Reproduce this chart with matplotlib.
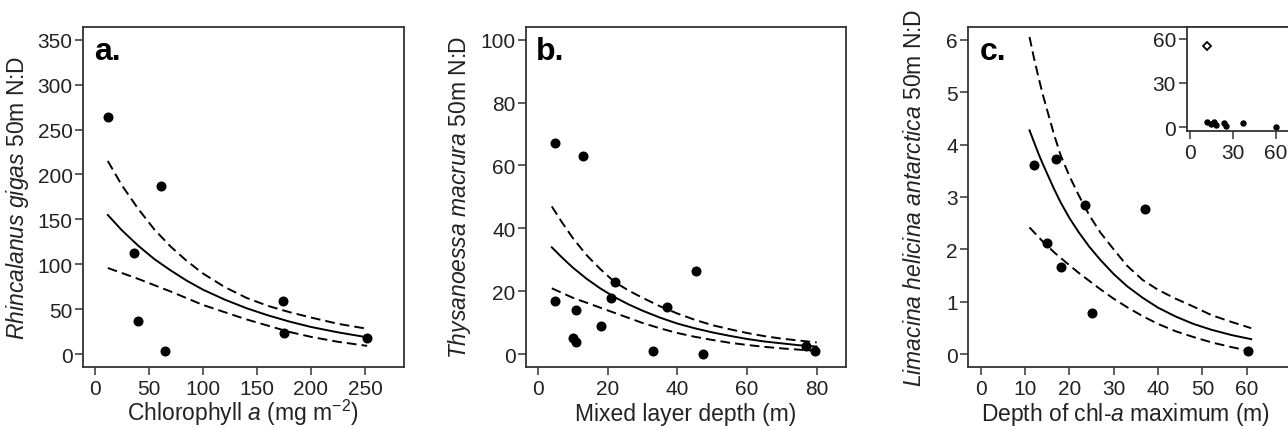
import matplotlib
matplotlib.use('Agg')
import matplotlib.pyplot as plt

plt.rcParams['font.family'] = ['Liberation Sans', 'DejaVu Sans']
plt.rcParams['mathtext.fontset'] = 'custom'
plt.rcParams['mathtext.rm'] = 'Liberation Sans'
plt.rcParams['mathtext.it'] = 'Liberation Sans:italic'
plt.rcParams['mathtext.bf'] = 'Liberation Sans:bold'

# --- panel a: Rhincalanus gigas vs chlorophyll a ---
chl_x = [12, 36, 40, 61, 65, 174, 175, 252]
rhinc_y = [264, 113, 37, 187, 4, 59, 24, 18]
chl_fit_x = [12, 25, 40, 55, 70, 85, 100, 120, 140, 160, 180, 200, 225, 252]
rhinc_fit = [155, 138, 121, 106, 93.5, 82, 72, 61, 51.5, 43.5, 36.5, 30.5, 24.5, 19]
rhinc_upper = [215, 188, 162, 139, 120, 104, 90, 75, 63, 54, 47, 41, 34, 28.5]
rhinc_lower = [96, 90.5, 84, 77, 70, 62.5, 55, 47, 39, 32, 25, 19.5, 14, 9.5]

# --- panel b: Thysanoessa macrura vs mixed layer depth ---
mld_x = [5, 5, 10, 11, 11, 13, 18, 21, 22, 33, 37, 45.5, 47.5, 77, 79.5]
thys_y = [67, 17, 5.3, 14, 4, 63, 9, 18, 23, 1, 15, 26.5, 0, 2.7, 1]
mld_fit_x = [4, 7, 10, 14, 18, 22, 26, 30, 35, 40, 45, 50, 55, 60, 65, 70, 75, 80]
thys_fit = [34, 30.7, 27.6, 24.0, 20.9, 18.2, 15.9, 13.9, 11.7, 9.8, 8.3, 7.0,
            5.9, 4.9, 4.1, 3.5, 2.9, 2.5]
thys_upper = [47, 41.8, 37, 31.5, 27, 23, 20.3, 18, 15.3, 13, 11, 9.3,
              8, 6.8, 5.8, 5, 4.4, 3.8]
thys_lower = [21, 19.5, 18, 16.4, 14.8, 13.2, 11.6, 10, 8.3, 6.8, 5.6, 4.6,
              3.7, 3.0, 2.4, 1.9, 1.5, 1.1]

# --- panel c: Limacina helicina antarctica vs depth of chl-a max ---
dcm_x = [12, 15, 17, 18, 23.6, 25, 37, 60.2]
lim_y = [3.6, 2.12, 3.73, 1.67, 2.85, 0.78, 2.77, 0.07]
dcm_fit_x = [11, 12, 13, 14, 15, 16.5, 18, 20, 22, 24.5, 27, 30, 33, 36.5, 40,
             44, 48, 52, 56.5, 61]
lim_fit = [4.27, 4.05, 3.83, 3.63, 3.44, 3.16, 2.9, 2.6, 2.34, 2.05, 1.8, 1.53,
           1.3, 1.08, 0.89, 0.72, 0.58, 0.47, 0.37, 0.29]
lim_upper = [6.05, 5.65, 5.29, 4.95, 4.65, 4.2, 3.8, 3.4, 3.05, 2.65, 2.32, 2.0,
             1.69, 1.42, 1.23, 1.06, 0.91, 0.75, 0.62, 0.5]
lim_lower = [2.42, 2.33, 2.24, 2.15, 2.07, 1.95, 1.84, 1.7, 1.56, 1.4, 1.24, 1.06,
             0.9, 0.73, 0.58, 0.44, 0.33, 0.23, 0.14, 0.06]
# outlier shown only in the inset
lim_out_x = [12]
lim_out_y = [55]

INK = '#222222'


def style_axes(ax, xticks, yticks, xlim, ylim):
    ax.set_xlim(*xlim)
    ax.set_ylim(*ylim)
    ax.set_xticks(xticks)
    ax.set_yticks(yticks)
    for sp in ax.spines.values():
        sp.set_linewidth(1.3)
        sp.set_color('#333333')
    ax.tick_params(axis='both', direction='out', length=5.5, width=1.1,
                   color='#333333', labelcolor=INK, labelsize=15)
    ax.tick_params(axis='x', pad=3)
    ax.tick_params(axis='y', pad=2)


def draw_fit(ax, x, fit, upper, lower):
    ax.plot(x, fit, color='black', lw=1.4)
    ax.plot(x, upper, color='black', lw=1.4, dashes=(5, 2.6))
    ax.plot(x, lower, color='black', lw=1.4, dashes=(5, 2.6))


fig = plt.figure(figsize=(12.88, 4.31), dpi=100)
bottom, height = 0.1462, 0.7889
ax_a = fig.add_axes([0.0644, bottom, 0.2492, height])
ax_b = fig.add_axes([0.4084, bottom, 0.2484, height])
ax_c = fig.add_axes([0.7518, bottom, 0.2537, height])

# panel a
draw_fit(ax_a, chl_fit_x, rhinc_fit, rhinc_upper, rhinc_lower)
ax_a.plot(chl_x, rhinc_y, 'o', color='black', ms=6.2)
style_axes(ax_a, range(0, 251, 50), range(0, 351, 50), (-11, 286), (-14, 364))
ax_a.set_xlabel('Chlorophyll $\\it{a}$ (mg m$^{-2}$)', fontsize=16.5, color=INK)
ax_a.set_ylabel('$\\it{Rhincalanus\\ gigas}$ 50m N:D', fontsize=16.5, color=INK)
ax_a.text(0.034, 0.906, 'a.', transform=ax_a.transAxes, fontsize=23,
          fontweight='bold', va='baseline', color='black')

# panel b
draw_fit(ax_b, mld_fit_x, thys_fit, thys_upper, thys_lower)
ax_b.plot(mld_x, thys_y, 'o', color='black', ms=6.2)
style_axes(ax_b, range(0, 81, 20), range(0, 101, 20), (-3.4, 88.4), (-4, 104))
ax_b.set_xlabel('Mixed layer depth (m)', fontsize=16.5, color=INK)
ax_b.set_ylabel('$\\it{Thysanoessa\\ macrura}$ 50m N:D', fontsize=16.5, color=INK)
ax_b.text(0.031, 0.906, 'b.', transform=ax_b.transAxes, fontsize=23,
          fontweight='bold', va='baseline', color='black')

# panel c
draw_fit(ax_c, dcm_fit_x, lim_fit, lim_upper, lim_lower)
ax_c.plot(dcm_x, lim_y, 'o', color='black', ms=6.2)
style_axes(ax_c, range(0, 61, 10), range(0, 7), (-2.8, 70.9), (-0.24, 6.24))
ax_c.set_xlabel('Depth of chl-$\\it{a}$ maximum (m)', fontsize=16.5, color=INK)
ax_c.set_ylabel('$\\it{Limacina\\ helicina\\ antarctica}$ 50m N:D', fontsize=16.5,
                color=INK)
ax_c.text(0.035, 0.906, 'c.', transform=ax_c.transAxes, fontsize=23,
          fontweight='bold', va='baseline', color='black')

for ax in (ax_a, ax_b, ax_c):
    ax.xaxis.label.set_verticalalignment('baseline')
ax_a.xaxis.set_label_coords(0.5, -0.155)
ax_b.xaxis.set_label_coords(0.5, -0.155)
ax_c.xaxis.set_label_coords(0.48, -0.155)
ax_a.yaxis.set_label_coords(-0.162, 0.5)
ax_b.yaxis.set_label_coords(-0.167, 0.5)
ax_c.yaxis.set_label_coords(-0.128, 0.5)

# inset in panel c with the full range including the outlier
ax_in = fig.add_axes([0.9212, 0.6937, 0.0835, 0.2406])
ax_in.plot(dcm_x, lim_y, 'o', color='black', ms=3.6)
ax_in.plot(lim_out_x, lim_out_y, 'D', mfc='white', mec='black', ms=4.5, mew=1.3)
style_axes(ax_in, [0, 30, 60], [0, 30, 60], (-2.4, 72.6), (-2.5, 67.6))

fig.savefig('out.png', dpi=100)
